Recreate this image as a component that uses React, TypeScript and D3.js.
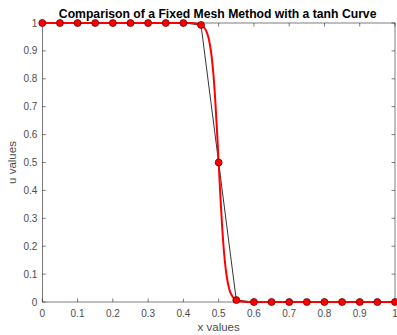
import React from 'react';
import * as d3 from 'd3';

const meshX = [0, 0.05, 0.1, 0.15, 0.2, 0.25, 0.3, 0.35, 0.4, 0.45, 0.5, 0.55, 0.6, 0.65, 0.7, 0.75, 0.8, 0.85, 0.9, 0.95, 1];
const meshU = [1, 1, 1, 1, 1, 1, 1, 1, 1, 0.993, 0.5, 0.007, 0, 0, 0, 0, 0, 0, 0, 0, 0];

const curveX = [0, 0.1, 0.2, 0.3, 0.4, 0.42, 0.44, 0.45, 0.46, 0.465, 0.47, 0.475, 0.48, 0.485, 0.49, 0.495, 0.5, 0.505, 0.51, 0.515, 0.52, 0.525, 0.53, 0.535, 0.54, 0.55, 0.56, 0.58, 0.6, 0.7, 0.8, 0.9, 1];
const curveU = [1, 1, 1, 1, 1, 0.9997, 0.9975, 0.993, 0.982, 0.971, 0.953, 0.924, 0.881, 0.818, 0.731, 0.622, 0.5, 0.378, 0.269, 0.182, 0.119, 0.076, 0.047, 0.029, 0.018, 0.0067, 0.0025, 0.0003, 0, 0, 0, 0, 0];

const xTicks = [0, 0.1, 0.2, 0.3, 0.4, 0.5, 0.6, 0.7, 0.8, 0.9, 1];
const yTicks = [0, 0.1, 0.2, 0.3, 0.4, 0.5, 0.6, 0.7, 0.8, 0.9, 1];

const W = 397, H = 335;
const L = 42.3, R = 395, T = 23, B = 302;
const font = "'Liberation Sans', Arial, Helvetica, sans-serif";

export default function App() {
  const x = d3.scaleLinear().domain([0, 1]).range([L, R]);
  const y = d3.scaleLinear().domain([0, 1]).range([B, T]);
  const meshLine = d3.line<number>().x((d, i) => x(meshX[i])).y(d => y(d))(meshU) || '';
  const curveLine = d3.line<number>().x((d, i) => x(curveX[i])).y(d => y(d)).curve(d3.curveMonotoneX)(curveU) || '';
  const fmt = (v: number) => (v === 0 || v === 1 ? String(v) : d3.format('.1f')(v));
  const tl = 3.5;
  const axisColor = '#262626';
  const textColor = '#4d4d4d';
  return (
    <svg width={W} height={H} style={{ position: 'fixed', left: 0, top: 0, background: '#fff' }} fontFamily={font}>
      <rect x={0} y={0} width={W} height={H} fill="#fff" />
      <g stroke={axisColor} strokeWidth={0.6} fill="none">
        <rect x={L} y={T} width={R - L} height={B - T} />
        {xTicks.map(t => (
          <g key={'x' + t}>
            <line x1={x(t)} x2={x(t)} y1={B} y2={B - tl} />
            <line x1={x(t)} x2={x(t)} y1={T} y2={T + tl} />
          </g>
        ))}
        {yTicks.map(t => (
          <g key={'y' + t}>
            <line x1={L} x2={L + tl} y1={y(t)} y2={y(t)} />
            <line x1={R} x2={R - tl} y1={y(t)} y2={y(t)} />
          </g>
        ))}
      </g>
      <g fontSize={10} fill={textColor}>
        {xTicks.map(t => (
          <text key={'xl' + t} x={x(t)} y={B + 15} textAnchor="middle">{fmt(t)}</text>
        ))}
        {yTicks.map(t => (
          <text key={'yl' + t} x={L - 5} y={y(t) + 3.5} textAnchor="end">{fmt(t)}</text>
        ))}
      </g>
      <text x={(L + R) / 2} y={331} textAnchor="middle" fontSize={11.5} fill={textColor}>x values</text>
      <text transform={`translate(16,${(T + B) / 2}) rotate(-90)`} textAnchor="middle" fontSize={11.5} fill={textColor}>u values</text>
      <text x={(L + R) / 2 - 1} y={18} textAnchor="middle" fontSize={12.2} fontWeight="bold" fill="#000">Comparison of a Fixed Mesh Method with a tanh Curve</text>
      <path d={meshLine} fill="none" stroke="#000" strokeWidth={0.8} />
      <path d={curveLine} fill="none" stroke="#ff0000" strokeWidth={2} />
      {meshU.map((u, i) => (
        <circle key={'m' + i} cx={x(meshX[i])} cy={y(u)} r={3.5} fill="#ff0000" stroke="#4a0000" strokeWidth={0.7} />
      ))}
    </svg>
  );
}
